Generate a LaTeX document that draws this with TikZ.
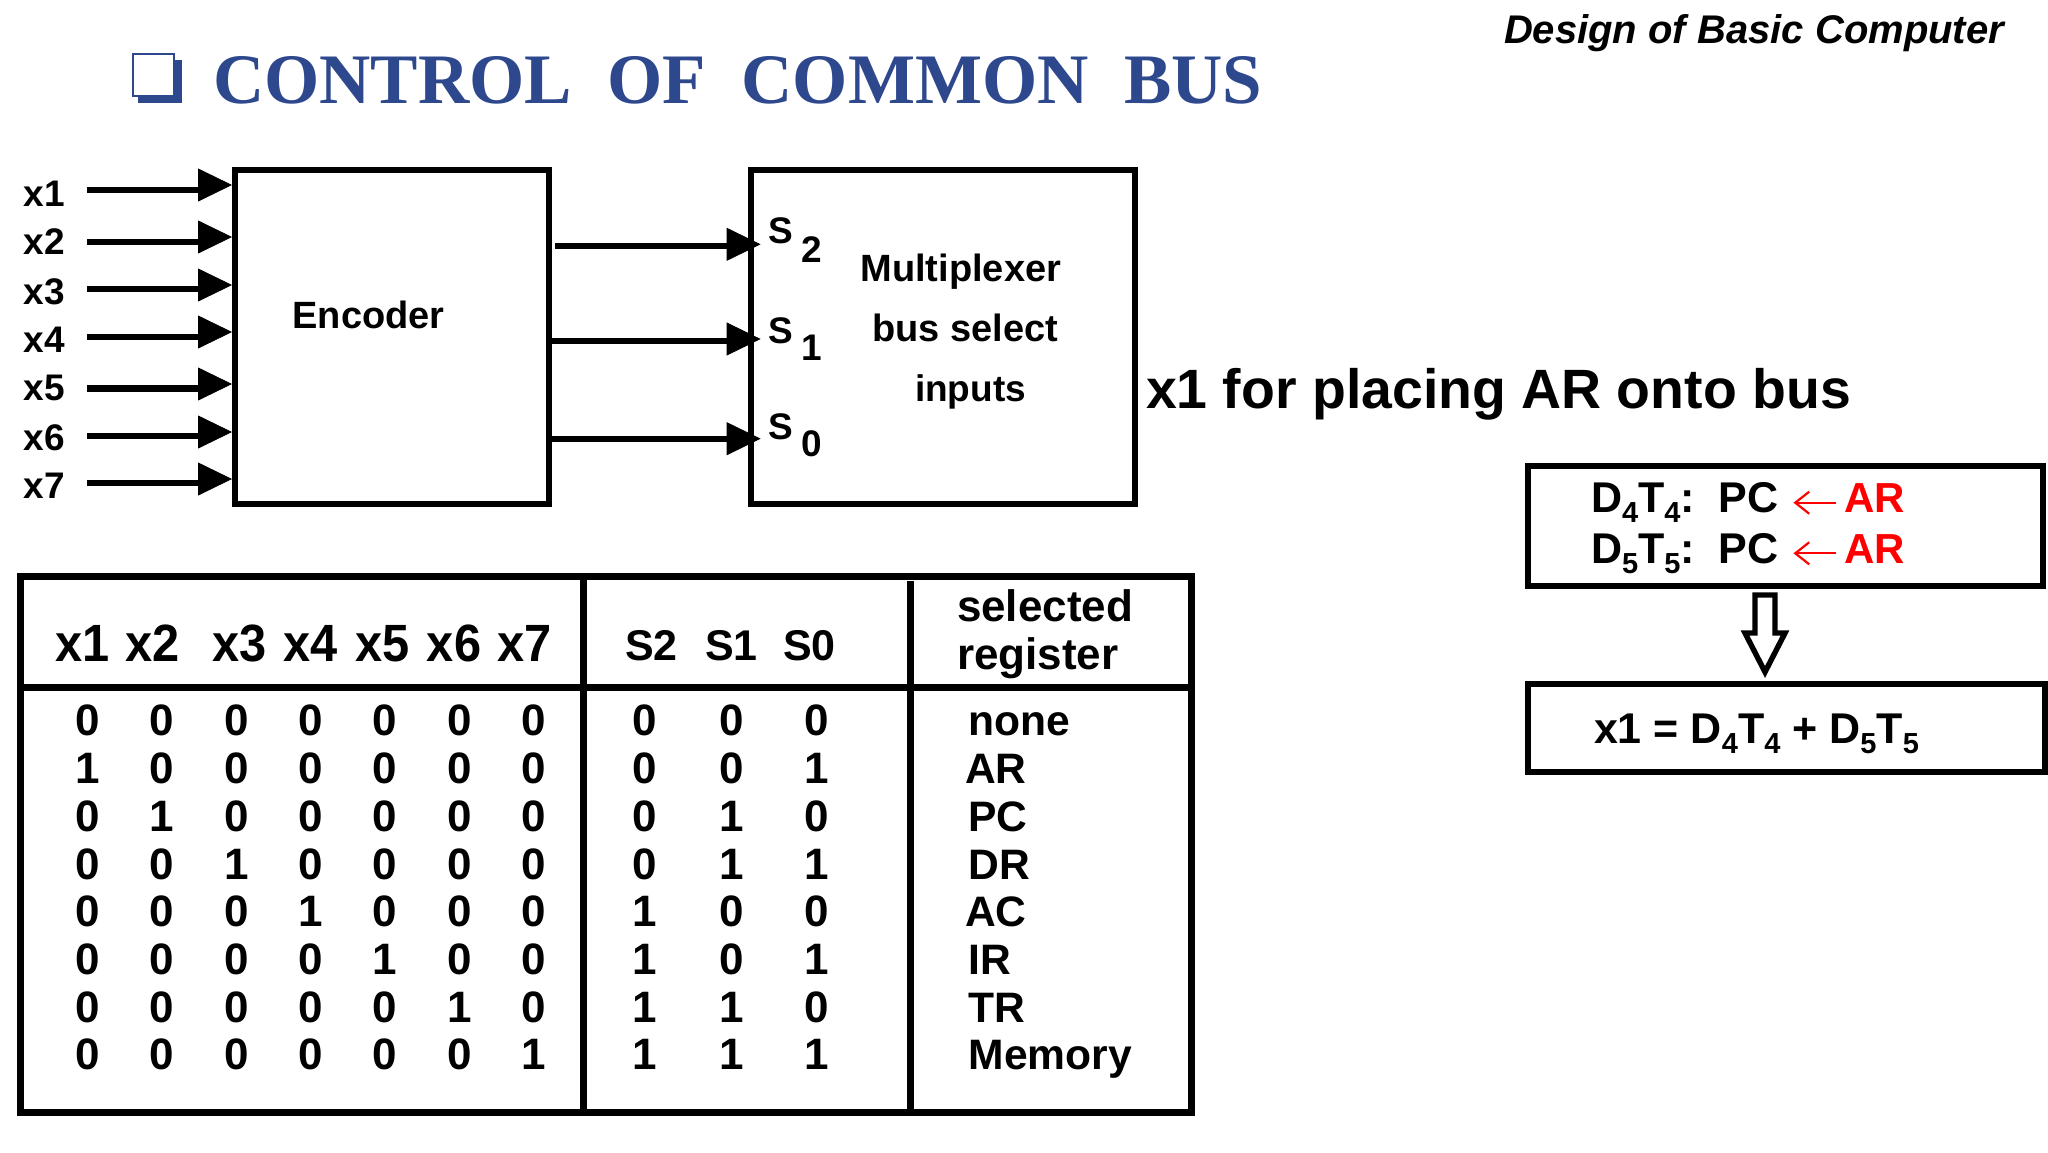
\documentclass[tikz,border=0pt]{standalone}
\usepackage{fontspec}
\setmainfont{Liberation Sans}
\newfontfamily\titlefont{Liberation Serif}
\usetikzlibrary{arrows.meta}
\definecolor{titleblue}{RGB}{46,72,142}
\newcommand\fs[1]{\fontsize{#1}{#1}\selectfont\bfseries}
\newcommand\sbs[1]{\raisebox{-5pt}{\fontsize{14.5}{14.5}\selectfont #1}}
\begin{document}
\begin{tikzpicture}[x=0.5pt,y=-0.5pt,
  txt/.style={inner sep=0pt,outer sep=0pt,anchor=base west},
  lab/.style={txt,font=\fs{18.5}},
  blk/.style={txt,font=\fs{19}},
  hdr/.style={txt,font=\fs{23}},
  thd/.style={txt,font=\fs{21.5}},
  regh/.style={txt,font=\fs{22}},
  reg/.style={txt,font=\fs{21.3}},
  digit/.style={inner sep=0pt,outer sep=0pt,anchor=base,font=\fs{22}},
  eqn/.style={txt,font=\fs{21.5}},
  redtxt/.style={txt,font=\fs{21},text=red},
  redarrow/.style={draw=red,line width=1.1pt,-{Straight Barb[length=7pt,width=11pt,line width=1.1pt]}},
  boxnode/.style={draw=black,line width=3pt,inner sep=0pt},
  wire/.style={draw=black,line width=3.2pt},
  tipline/.style={draw=black,line width=0.4pt,-{Triangle[length=17pt,width=16.5pt]}},
  rule/.style={draw=black,line width=3.5pt}]
\useasboundingbox (0,0) rectangle (2048,1152);
\fill[white] (0,0) rectangle (2048,1152);

% titles
\fill[titleblue] (138,60) rectangle (181.7,103.3);
\draw[titleblue,line width=1pt,fill=white] (132.7,54.3) rectangle (174,95.7);
\node[txt,font=\titlefont\fs{35.5},text=titleblue] (title) at (213,103) {CONTROL\ \ OF\ \ COMMON\ \ BUS};
\node[txt,font=\fs{20}\itshape] (subject) at (1504,43) {Design of Basic Computer};

% encoder and multiplexer
\node[boxnode,minimum width=157pt,minimum height=166.75pt] (enc) at (392,336.75) {};
\node[boxnode,minimum width=192.25pt,minimum height=166.75pt] (mux) at (942.75,336.75) {};
\node[blk] (enctxt) at (292.5,328) {Encoder};
\node[blk] (m1) at (860.5,281.7) {Multiplexer};
\node[blk] (m2) at (872.5,341.7) {bus select};
\node[lab] (m3) at (915,401.7) {inputs};

% inputs
\foreach \i/\tx/\ty/\ly in {1/190/185/206.7,2/241.7/237/254,3/289/285/304,4/336.7/332/352.7,5/388.3/384/400.7,6/435.7/432/450.7,7/482.7/479/498}{
  \node[lab] (x\i) at (24,\ly) {x\i};
  \coordinate (a\i) at (87,\tx);
  \coordinate (b\i) at (200,\tx);
  \coordinate (h\i) at (198,\ty);
  \draw[wire] (a\i) -- (b\i);
  \draw[tipline] (h\i) -- (enc.west |- h\i);
}

% outputs
\coordinate (o2a) at (555,246);
\coordinate (o2b) at (728,246);
\coordinate (o2h) at (727,244.3);
\coordinate (o2t) at (760.6,244.3);
\draw[wire] (o2a) -- (o2b);
\draw[tipline] (o2h) -- (o2t);
\coordinate (o1b) at (728,341);
\coordinate (o1h) at (727,339);
\coordinate (o1t) at (760.6,339);
\draw[wire] (enc.east |- o1b) -- (o1b);
\draw[tipline] (o1h) -- (o1t);
\coordinate (o0b) at (728,438.7);
\coordinate (o0h) at (727,438.7);
\coordinate (o0t) at (760.6,438.7);
\draw[wire] (enc.east |- o0b) -- (o0b);
\draw[tipline] (o0h) -- (o0t);
\node[lab] (s2) at (768,243.5) {S};
\node[lab] (s2d) at (801,262.7) {2};
\node[lab] (s1) at (768,343) {S};
\node[lab] (s1d) at (801,360) {1};
\node[lab] (s0) at (768,439.5) {S};
\node[lab] (s0d) at (801,456) {0};

\node[txt,font=\fs{27.7}] (note) at (1146,408.5) {x1 for placing AR onto bus};

% equation boxes
\node[boxnode,minimum width=257.3pt,minimum height=60.25pt] (eqa) at (1785.7,525.75) {};
\node[boxnode,minimum width=258.3pt,minimum height=43.85pt] (eqb) at (1786.7,727.85) {};
\node[eqn] (d4) at (1591,512.7) {D\sbs{4}T\sbs{4}:\ \ PC};
\node[eqn] (d5) at (1591,563.3) {D\sbs{5}T\sbs{5}:\ \ PC};
\node[redtxt] (r1) at (1844,512.7) {AR};
\node[redtxt] (r2) at (1844,563.3) {AR};
\coordinate (ar1a) at (1836,502.7);
\coordinate (ar1b) at (1793.4,502.7);
\coordinate (ar2a) at (1836,553.3);
\coordinate (ar2b) at (1793.4,553.3);
\draw[redarrow] (ar1a) -- (ar1b);
\draw[redarrow] (ar2a) -- (ar2b);
\node[eqn] (d6) at (1594,743.3) {x1 = D\sbs{4}T\sbs{4} + D\sbs{5}T\sbs{5}};
\draw[black,line width=2.7pt,miter limit=10,fill=white]
  (1755,595) -- (1775,595) -- (1775,633) -- (1785,633) -- (1765,672) -- (1745,633) -- (1755,633) -- cycle;

% table frame
\node[draw=black,line width=3.5pt,inner sep=0pt,minimum width=585.5pt,minimum height=267.65pt] (tbl) at (606.3,844.35) {};
\coordinate (hl) at (0,687.7);
\coordinate (vl1) at (583,0);
\coordinate (vl2) at (910,581.4);
\draw[rule] (tbl.west |- hl) -- (tbl.east |- hl);
\draw[rule] (vl1 |- tbl.north) -- (vl1 |- tbl.south);
\draw[rule] (vl2) -- (vl2 |- tbl.south);

% table headers
\foreach \n/\hx in {1/55.3,2/125.7,3/212.6,4/283.4,5/355.7,6/426.9,7/497.2}{
  \node[hdr] (hx\n) at (\hx,661.7) {\scalebox{1.06}[1.14]{x\n}};
}
\node[thd] (hs2) at (625,660.7) {S2};
\node[thd] (hs1) at (705,660.7) {S1};
\node[thd] (hs0) at (783,660.7) {S0};
\node[regh] (hr1) at (957,621.8) {selected};
\node[regh] (hr2) at (957,669) {register};

% table rows
\foreach \ry/\bits/\name/\nx [count=\r] in {
  735.7/{0,0,0,0,0,0,0,0,0,0}/none/968.5,
  783.4/{1,0,0,0,0,0,0,0,0,1}/AR/965,
  831.2/{0,1,0,0,0,0,0,0,1,0}/PC/968.5,
  879/{0,0,1,0,0,0,0,0,1,1}/DR/968.5,
  926.7/{0,0,0,1,0,0,0,1,0,0}/AC/965,
  974.4/{0,0,0,0,1,0,0,1,0,1}/IR/968.5,
  1022.2/{0,0,0,0,0,1,0,1,1,0}/TR/968.5,
  1069.6/{0,0,0,0,0,0,1,1,1,1}/Memory/968.5}{
  \foreach \v [count=\c] in \bits {
    \pgfmathsetmacro\cx{{87.5,162,236.5,310.5,385,459.5,534,645,731.5,816.7}[\c-1]}
    \node[digit] (d\r-\c) at (\cx,\ry) {\v};
  }
  \node[reg] (reg\r) at (\nx,\ry) {\name};
}
\end{tikzpicture}
\end{document}
